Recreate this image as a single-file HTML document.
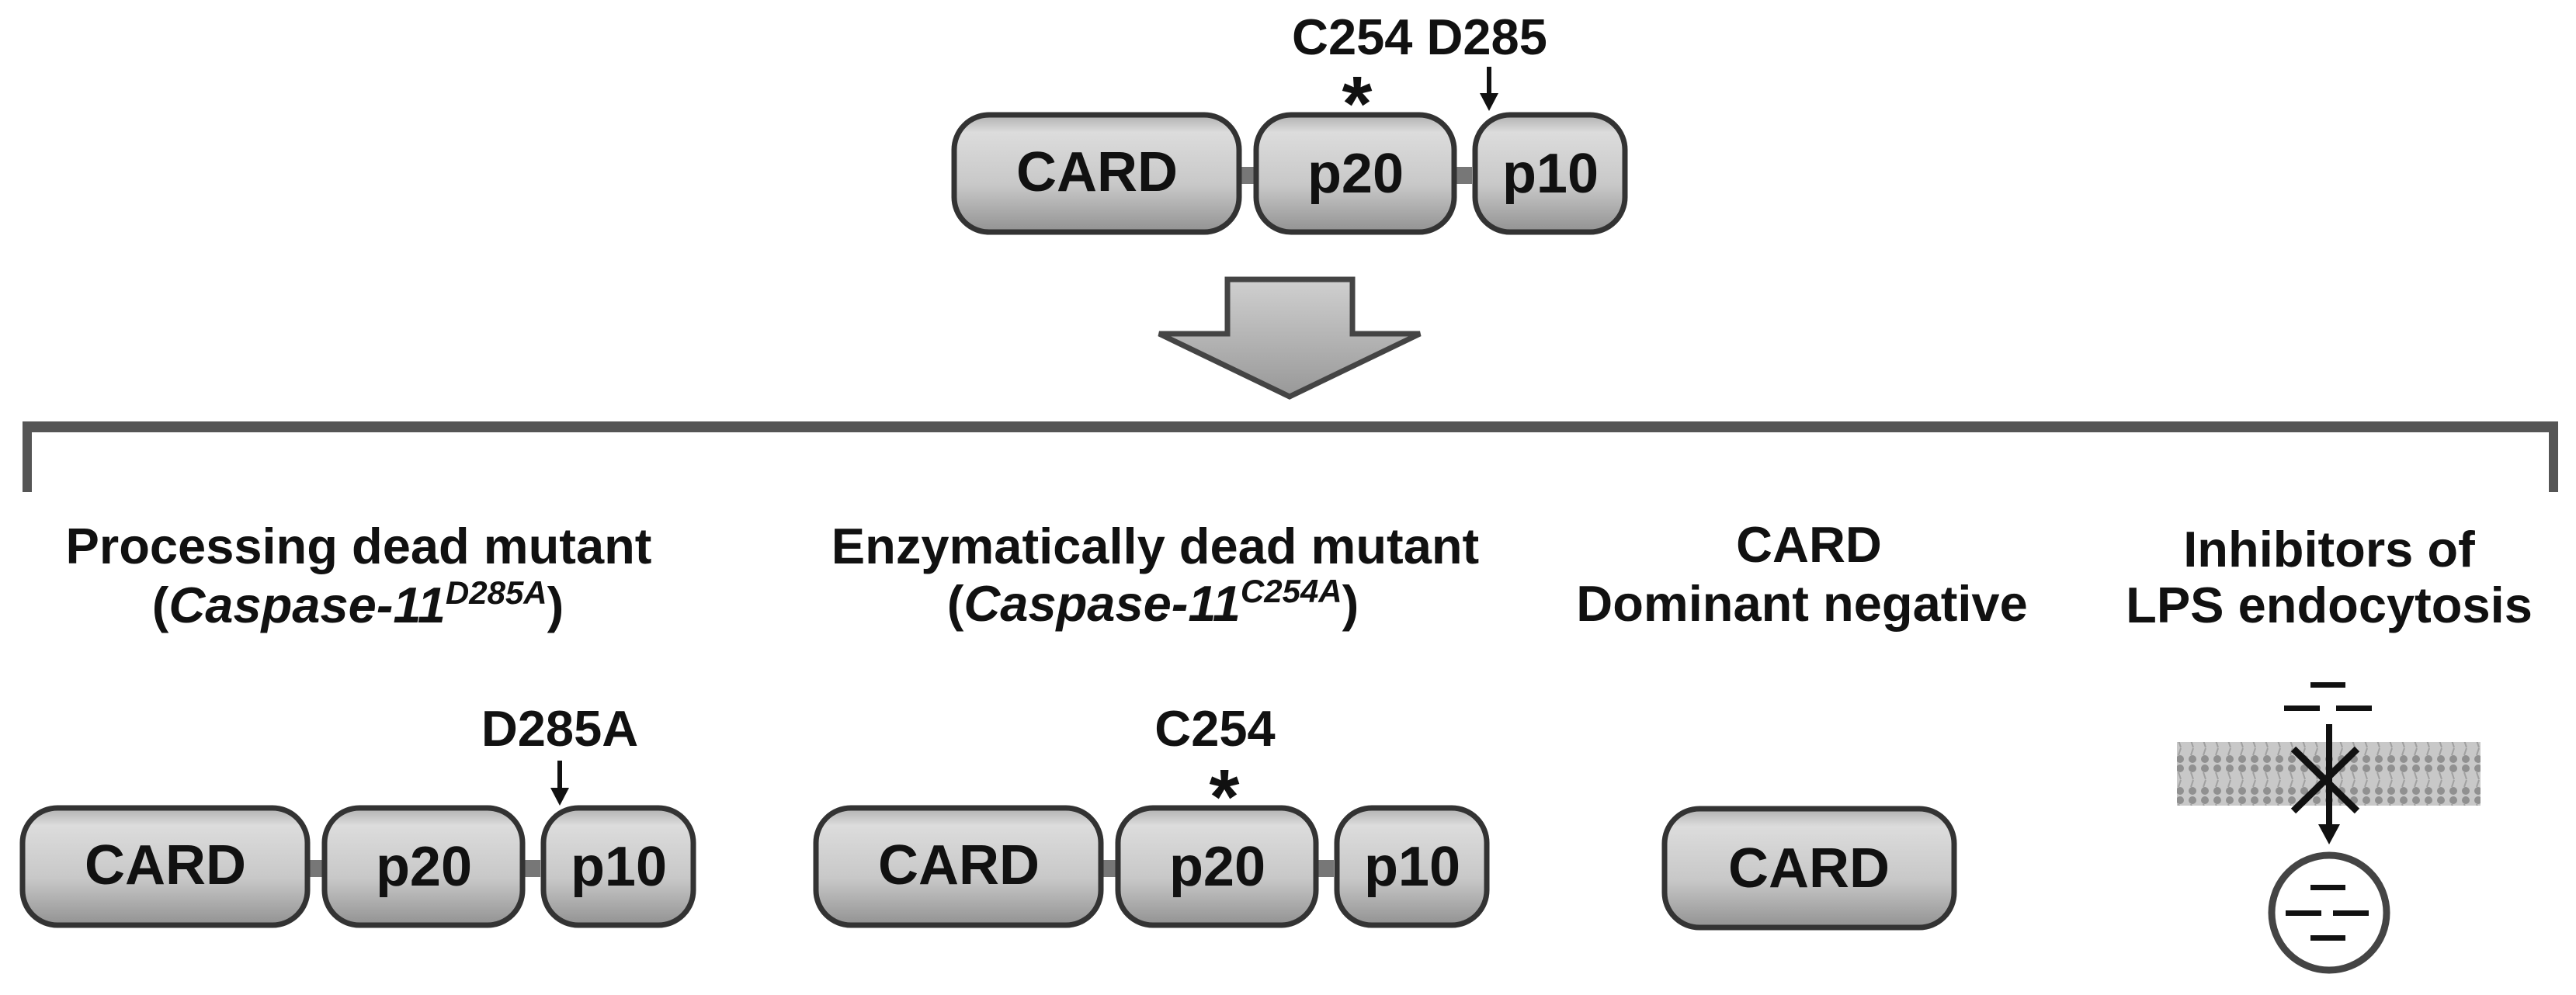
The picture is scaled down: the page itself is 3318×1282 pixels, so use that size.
<!DOCTYPE html>
<html><head><meta charset="utf-8"><style>
html,body{margin:0;padding:0;background:#fff;}
svg{display:block;}
text{font-family:"Liberation Sans",Arial,sans-serif;font-weight:bold;fill:#111;}
</style></head><body>
<svg width="3318" height="1282" viewBox="0 0 3318 1282" xmlns="http://www.w3.org/2000/svg">
<defs>
<linearGradient id="bx" x1="0" y1="0" x2="0" y2="1">
<stop offset="0" stop-color="#b0b0b0"/><stop offset="0.15" stop-color="#dcdcdc"/>
<stop offset="0.6" stop-color="#c8c8c8"/><stop offset="1" stop-color="#929292"/>
</linearGradient>
<linearGradient id="ar" x1="0" y1="0" x2="0" y2="1">
<stop offset="0" stop-color="#d0d0d0"/><stop offset="1" stop-color="#989898"/>
</linearGradient>
<pattern id="lip" width="16" height="41" patternUnits="userSpaceOnUse">
<rect width="16" height="41" fill="#c8c8c8"/>
<circle cx="8" cy="6" r="5" fill="#909090"/>
<circle cx="8" cy="35" r="5" fill="#909090"/>
<line x1="6" y1="11" x2="9" y2="20" stroke="#a0a0a0" stroke-width="2"/>
<line x1="9" y1="21" x2="6" y2="30" stroke="#a0a0a0" stroke-width="2"/>
</pattern>
<g id="box3">
<rect x="360" y="70" width="30" height="22" fill="#777"/>
<rect x="640" y="70" width="30" height="22" fill="#777"/>
<rect x="3" y="3" width="367" height="151" rx="45" fill="url(#bx)" stroke="#333" stroke-width="7"/>
<rect x="392" y="3" width="255" height="151" rx="45" fill="url(#bx)" stroke="#333" stroke-width="7"/>
<rect x="674" y="3" width="193" height="151" rx="45" fill="url(#bx)" stroke="#333" stroke-width="7"/>
<text x="187" y="101" font-size="72" text-anchor="middle">CARD</text>
<text x="520" y="103" font-size="72" text-anchor="middle">p20</text>
<text x="771" y="103" font-size="72" text-anchor="middle">p10</text>
</g>
</defs>

<text x="1664" y="70" font-size="65">C254 D285</text>
<text x="1748" y="168" font-size="100" text-anchor="middle">*</text>
<line x1="1918" y1="86" x2="1918" y2="125" stroke="#111" stroke-width="6"/>
<polygon points="1906,120 1930,120 1918,143" fill="#111"/>
<use href="#box3" x="1226" y="145"/>

<polygon points="1581,360 1742,360 1742,430 1829,430 1661,511 1493,430 1581,430" fill="url(#ar)" stroke="#444" stroke-width="7" stroke-linejoin="miter"/>

<rect x="29" y="543" width="3266" height="14" fill="#555"/>
<rect x="29" y="543" width="12" height="91" fill="#555"/>
<rect x="3283" y="543" width="12" height="91" fill="#555"/>

<text x="462" y="726" font-size="65" text-anchor="middle">Processing dead mutant</text>
<text x="461" y="802" font-size="65" text-anchor="middle">(<tspan font-style="italic">Caspase-11</tspan><tspan font-style="italic" font-size="42" dy="-24">D285A</tspan><tspan dy="24">)</tspan></text>
<text x="721" y="961" font-size="65" text-anchor="middle">D285A</text>
<line x1="721" y1="980" x2="721" y2="1020" stroke="#111" stroke-width="6"/>
<polygon points="709,1015 733,1015 721,1038" fill="#111"/>
<use href="#box3" x="26" y="1038"/>

<text x="1488" y="726" font-size="65" text-anchor="middle">Enzymatically dead mutant</text>
<text x="1485" y="800" font-size="65" text-anchor="middle">(<tspan font-style="italic">Caspase-11</tspan><tspan font-style="italic" font-size="42" dy="-24">C254A</tspan><tspan dy="24">)</tspan></text>
<text x="1565" y="961" font-size="65" text-anchor="middle">C254</text>
<text x="1577" y="1061" font-size="100" text-anchor="middle">*</text>
<use href="#box3" x="1048" y="1038"/>

<text x="2330" y="724" font-size="65" text-anchor="middle">CARD</text>
<text x="2321" y="800" font-size="65" text-anchor="middle">Dominant negative</text>
<rect x="2144" y="1042" width="373" height="153" rx="45" fill="url(#bx)" stroke="#333" stroke-width="7"/>
<text x="2330" y="1143" font-size="72" text-anchor="middle">CARD</text>

<text x="3000" y="730" font-size="65" text-anchor="middle">Inhibitors of</text>
<text x="3000" y="802" font-size="65" text-anchor="middle">LPS endocytosis</text>
<rect x="2804" y="956" width="391" height="82" fill="url(#lip)"/>
<rect x="2976" y="879" width="45" height="7" fill="#111"/>
<rect x="2942" y="909" width="46" height="7" fill="#111"/>
<rect x="3009" y="909" width="46" height="7" fill="#111"/>
<line x1="3000" y1="933" x2="3000" y2="1068" stroke="#111" stroke-width="8"/>
<polygon points="2986,1062 3014,1062 3000,1088" fill="#111"/>
<line x1="2954" y1="965" x2="3036" y2="1045" stroke="#111" stroke-width="9"/>
<line x1="3036" y1="965" x2="2954" y2="1045" stroke="#111" stroke-width="9"/>
<circle cx="3000" cy="1176" r="74" fill="#fff" stroke="#444" stroke-width="9"/>
<rect x="2976" y="1140" width="45" height="7" fill="#111"/>
<rect x="2944" y="1173" width="46" height="7" fill="#111"/>
<rect x="3005" y="1173" width="46" height="7" fill="#111"/>
<rect x="2976" y="1205" width="45" height="7" fill="#111"/>
</svg>
</body></html>
